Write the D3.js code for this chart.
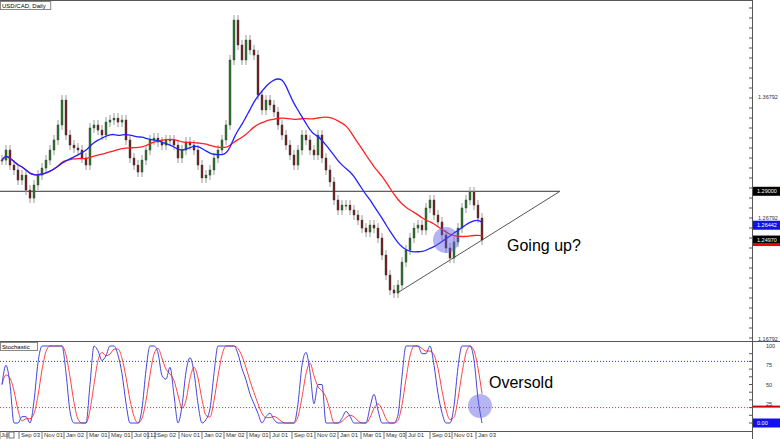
<!DOCTYPE html>
<html><head><meta charset="utf-8">
<script src="https://cdn.jsdelivr.net/npm/d3@7"></script>
<style>
body{margin:0;background:#fff;}
svg text{font-family:"Liberation Sans",Arial,sans-serif;}
</style></head><body>
<svg id="chart" width="780" height="439"></svg>
<script>
// closes, one candle per ~week, Jul yr1 .. Jan yr4
const closes = [1.3158,1.3241,1.3117,1.3076,1.2993,1.3034,1.2910,1.2844,1.2952,1.3034,1.3092,1.3158,1.3241,1.3324,1.3448,1.3654,1.3365,1.3282,1.3258,1.3241,1.3175,1.3117,1.3423,1.3448,1.3406,1.3365,1.3472,1.3489,1.3505,1.3472,1.3489,1.3324,1.3175,1.3117,1.3059,1.3158,1.3241,1.3324,1.3340,1.3307,1.3282,1.3324,1.3324,1.3282,1.3175,1.3241,1.3307,1.3282,1.3241,1.3117,1.3010,1.3034,1.3076,1.3175,1.3241,1.3324,1.3448,1.3985,1.4315,1.4109,1.3985,1.4150,1.4068,1.4026,1.3696,1.3572,1.3654,1.3613,1.3555,1.3448,1.3365,1.3282,1.3200,1.3117,1.3241,1.3365,1.3324,1.3241,1.3200,1.3365,1.3175,1.3076,1.2977,1.2828,1.2745,1.2786,1.2786,1.2745,1.2704,1.2662,1.2596,1.2563,1.2621,1.2596,1.2514,1.2373,1.2208,1.2084,1.2059,1.2125,1.2315,1.2415,1.2514,1.2596,1.2621,1.2580,1.2762,1.2828,1.2704,1.2646,1.2539,1.2431,1.2348,1.2481,1.2596,1.2762,1.2828,1.2894,1.2786,1.2679,1.2497];
const tickLabels = ["Jul","","Sep 03","Nov 01","Jan 02","Mar 01","May 01","Jul 01","12","Sep 02","Nov 01","Jan 02","Mar 02","May 01","Jul 01","Sep 01","Nov 02","Jan 01","Mar 01","May 03","Jul 01","Sep 01","Nov 01","Jan 03"];
const tickIdx = [-0.25,1.75,4.75,10.5,16,21.75,27.25,33,37,38.75,44.75,50.5,56,61.75,67.5,73,78.75,84.5,90.25,96,101.5,107.5,113,119];
const priceTicks = [1.36792,1.26792,1.16792];
const stochTicks = [100,75,50,25,0];
const levelPrice = 1.29;
const trendFrom = {i:98.8,p:1.2059}, trendTo = {i:139.5,p:1.2900};
const fastLen = 14, slowLen = 30, kLen = 5, kSmooth = 2, dLen = 3;

const svg = d3.select('#chart');
const W = 752, priceH = 341, stBot = 431;
const x = d3.scaleLinear().domain([0,120]).range([2,482]);
const y = d3.scaleLinear().domain([1.16792,1.36792]).range([339,97]);
const ys = d3.scaleLinear().domain([0,100]).range([423,346]);

const avg = (arr,n) => arr.map((c,i) => d3.mean(arr.slice(Math.max(0,i-n+1), i+1)));
const fast = avg(closes,fastLen), slow = avg(closes,slowLen);
const rawK = closes.map((c,i) => {
	const w = closes.slice(Math.max(0,i-kLen+1), i+1);
	const lo = d3.min(w), hi = d3.max(w);
	return hi===lo ? 50 : (c-lo)/(hi-lo)*100;
});
const K = avg(rawK,kSmooth);
const D = avg(K,dLen);

// frames
svg.append('line').attr('x1',0).attr('x2',W).attr('y1',0.5).attr('y2',0.5).attr('stroke','#555');
svg.append('line').attr('x1',0).attr('x2',780).attr('y1',priceH+0.5).attr('y2',priceH+0.5).attr('stroke','#555');
svg.append('line').attr('x1',0).attr('x2',W).attr('y1',stBot+0.5).attr('y2',stBot+0.5).attr('stroke','#555');
svg.append('line').attr('x1',W+0.5).attr('x2',W+0.5).attr('y1',0).attr('y2',439).attr('stroke','#555');

const pc = svg.append('g');
pc.append('line').attr('x1',0).attr('x2',x(trendTo.i)).attr('y1',y(levelPrice)).attr('y2',y(levelPrice)).attr('stroke','#333');
pc.append('line').attr('x1',x(trendFrom.i)).attr('y1',y(trendFrom.p)).attr('x2',x(trendTo.i)).attr('y2',y(trendTo.p)).attr('stroke','#555');

// candles
closes.forEach((c,i) => {
	const o = i ? closes[i-1] : c;
	const up = c >= o;
	const hi = Math.max(o,c), lo = Math.min(o,c);
	pc.append('line').attr('x1',x(i)).attr('x2',x(i)).attr('y1',y(hi)-5).attr('y2',y(lo)+5).attr('stroke','#999');
	pc.append('rect').attr('x',x(i)-1).attr('width',2).attr('y',y(hi)).attr('height',Math.max(1,y(lo)-y(hi)))
		.attr('fill', up ? '#2a7a2a' : '#7a1e1e').attr('stroke','#333').attr('stroke-width',0.4);
});
const line = arr => d3.line().x((d,i)=>x(i)).y(d=>y(d)).curve(d3.curveBasis)(arr);
pc.append('path').attr('d',line(slow)).attr('fill','none').attr('stroke','#f22').attr('stroke-width',1.3);
pc.append('path').attr('d',line(fast)).attr('fill','none').attr('stroke','#22f').attr('stroke-width',1.3);

pc.append('circle').attr('cx',446).attr('cy',240).attr('r',13).attr('fill','rgba(90,90,230,0.45)');
svg.append('text').attr('x',507).attr('y',251).attr('font-size',16).text('Going up?');

// stochastic
const st = svg.append('g');
st.append('line').attr('x1',0).attr('x2',W).attr('y1',ys(80)).attr('y2',ys(80)).attr('stroke','#33c').attr('stroke-dasharray','1,2');
st.append('line').attr('x1',0).attr('x2',W).attr('y1',ys(20)).attr('y2',ys(20)).attr('stroke','#d33').attr('stroke-dasharray','1,2');
const sl = arr => d3.line().x((d,i)=>x(i)).y(d=>ys(d)).curve(d3.curveMonotoneX)(arr);
st.append('path').attr('d',sl(D)).attr('fill','none').attr('stroke','#f44').attr('stroke-width',1);
st.append('path').attr('d',sl(K)).attr('fill','none').attr('stroke','#44d').attr('stroke-width',1);
st.append('circle').attr('cx',480).attr('cy',406).attr('r',12).attr('fill','rgba(90,90,230,0.45)');
svg.append('text').attr('x',489).attr('y',388).attr('font-size',16).text('Oversold');

// titles
[['USD/CAD, Daily',1],['Stochastic',342]].forEach(([t,yy]) => {
	const g = svg.append('g');
	g.append('rect').attr('x',0.5).attr('y',yy+0.5).attr('width',t.length*3.3+4).attr('height',8).attr('fill','#fff').attr('stroke','#888');
	g.append('text').attr('x',2).attr('y',yy+7).attr('font-size',6).text(t);
});

// right axis
const ra = svg.append('g').attr('font-size',5.5).attr('fill','#333');
d3.range(0,34).forEach(k => ra.append('line').attr('x1',W-3).attr('x2',W).attr('y1',k*10+8).attr('y2',k*10+8).attr('stroke','#555'));
priceTicks.forEach(p => ra.append('text').attr('x',758).attr('y',y(p)+2).text(p.toFixed(5)));
stochTicks.forEach(s => ra.append('text').attr('x',766).attr('y',ys(s)+2).text(s));
d3.range(0,10).forEach(k => ra.append('line').attr('x1',W-3).attr('x2',W).attr('y1',ys(k*10)).attr('y2',ys(k*10)).attr('stroke','#555'));
const tag = (yy,txt,bg) => {
	ra.append('rect').attr('x',753).attr('y',yy-4.5).attr('width',27).attr('height',9).attr('fill',bg);
	ra.append('text').attr('x',757).attr('y',yy+2).attr('fill','#fff').text(txt);
};
tag(y(levelPrice),'1.29000','#000');
ra.append('rect').attr('x',753).attr('y',ys(20)-2).attr('width',27).attr('height',2).attr('fill','#c00');
tag(ys(K[120]) ,K[120].toFixed(2),'#11e');
tag(y(fast[120])+3,fast[120].toFixed(5),'#11e');
tag(y(closes[120]),closes[120].toFixed(5),'#000');
ra.append('rect').attr('x',753).attr('y',y(closes[120])+3).attr('width',27).attr('height',3).attr('fill','#e00');

// bottom date axis
const da = svg.append('g').attr('font-size',6).attr('fill','#333');
tickLabels.forEach((t,i) => {
	const xx = x(tickIdx[i]);
	da.append('line').attr('x1',xx+(i?-2:-1)).attr('x2',xx+(i?-2:-1)).attr('y1',stBot).attr('y2',439).attr('stroke','#777');
	if (t) da.append('text').attr('x',xx).attr('y',437).text(t);
	else da.append('rect').attr('x',xx).attr('y',432).attr('width',5).attr('height',6).attr('fill','none').attr('stroke','#777');
});
</script></body></html>
